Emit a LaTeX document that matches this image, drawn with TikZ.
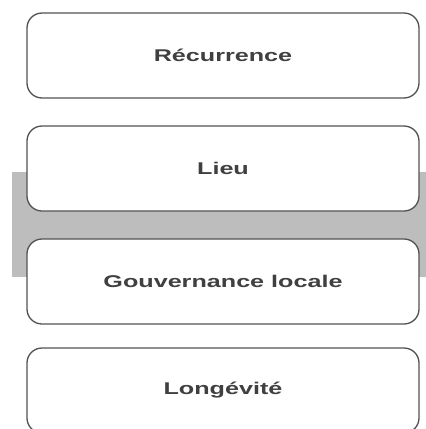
\documentclass[tikz,border=0pt]{standalone}
\usepackage{fontspec}
\newfontfamily\critfont[FakeStretch=1.48]{Liberation Sans Bold}
\usepackage{tikz}

\begin{document}
\begin{tikzpicture}[x=1pt, y=-1pt,
	critere/.style={draw=black!68, line width=1.3pt, fill=white, rounded corners=15pt,
		minimum width=392pt, minimum height=85pt, text=black!75,
		font=\critfont\fontsize{17}{19}\selectfont}]
\clip (0,0) rectangle (426,429);
\useasboundingbox (0,0) rectangle (426,429);
% bande grise derriere Lieu et Gouvernance locale
\fill[black!26] (12,172) rectangle (426,277);
\node[critere] (recurrence) at (223,55.5)  {Récurrence};
\node[critere] (lieu)       at (223,168.5) {Lieu};
\node[critere] (gouvernance) at (223,281.5) {Gouvernance locale};
\node[critere] (longevite)  at (223,390.5) {Longévité};
\end{tikzpicture}
\end{document}
